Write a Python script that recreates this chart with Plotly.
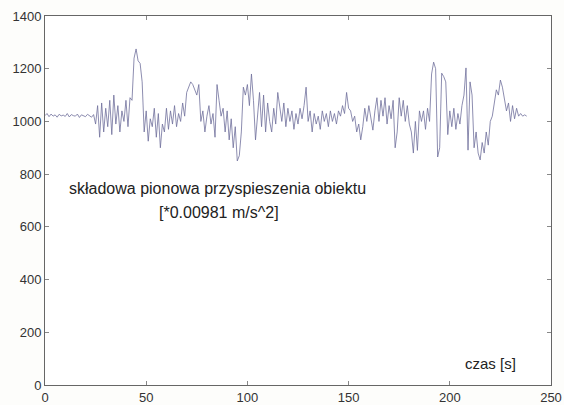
import numpy as np
import plotly.graph_objects as go

accel = [
    1022,1030,1018,1028,1020,1025,1016,1027,1021,1024,1019,1030,1017,1026,1022,1020,1028,1015,1025,1021,1018,1027,1023,1016,1026,
    990,1060,940,1070,960,
    1050,980,1080,950,1100,990,1060,960,1040,1000,1080,980,1090,
    1080,1240,1275,1230,1220,1150,
    960,1040,925,1010,980,1050,940,1030,900,990,960,
    1050,970,1040,990,1060,980,1030,1000,1070,1020,
    1110,1130,1150,1140,1120,1100,1140,
    1000,1040,960,1020,1060,990,1030,940,
    1140,1080,1020,1050,
    960,1040,930,1010,900,980,
    850,870,960,
    1130,1100,1140,1060,1180,1080,
    930,1040,1110,980,1100,960,1070,
    1000,960,1050,990,1110,1060,
    1000,1070,980,1050,1000,1040,970,
    1030,990,1050,1010,1060,1130,1000,
    1040,960,1030,990,1020,970,1040,1000,1030,980,1040,
    1000,1030,990,1040,1020,1060,1030,1110,1050,
    1040,1000,1020,960,990,930,980,
    1050,1000,1060,1010,967,1040,
    1090,1000,1080,1020,1090,990,1060,1010,1080,
    900,960,
    1090,1020,1080,1000,1060,990,960,
    880,1000,890,1040,1000,
    1040,970,1050,1000,
    1180,1225,1200,
    865,900,
    1183,1170,1150,
    950,1040,980,1050,970,1030,990,1060,
    1100,1203,891,1150,1100,
    900,960,880,854,920,880,
    960,910,1000,1020,
    1080,1120,1100,1157,1130,1080,
    1040,1070,1000,1060,1010,1050,1020,
    1030,1020,1025,1020,
]
time_s = list(range(len(accel)))

x_ticks = [0, 50, 100, 150, 200, 250]
y_ticks = [0, 200, 400, 600, 800, 1000, 1200, 1400]

fig = go.Figure()
fig.add_trace(go.Scatter(x=time_s, y=accel, mode="lines",
                         line=dict(color="#70709c", width=0.8),
                         showlegend=False))

axis_common = dict(showline=True, linecolor="#666666", linewidth=1, mirror="ticks",
                   ticks="inside", ticklen=4, tickcolor="#888888", showgrid=False,
                   zeroline=False, automargin=False,
                   tickfont=dict(family="Liberation Sans, Arial", size=13, color="#333333"))
fig.update_xaxes(range=[0, 250], tickvals=x_ticks, **axis_common)
fig.update_yaxes(range=[0, 1400], tickvals=y_ticks, **axis_common)

font_big = dict(family="Liberation Sans, Arial", size=16, color="#222222")
font_txt = dict(family="Liberation Sans, Arial", size=15, color="#222222")
fig.add_annotation(x=85, y=744, xref="x", yref="y", showarrow=False,
                   text="składowa pionowa przyspieszenia obiektu", font=font_big)
fig.add_annotation(x=86, y=656, xref="x", yref="y", showarrow=False,
                   text="[*0.00981 m/s^2]", font=font_big)
fig.add_annotation(x=220, y=83, xref="x", yref="y", showarrow=False,
                   text="czas [s]", font=font_txt)

fig.update_layout(width=564, height=405,
                  margin=dict(l=45, r=13, t=16, b=20, autoexpand=False),
                  paper_bgcolor="#fdfdfb", plot_bgcolor="#ffffff")
fig.write_html("out.html")
